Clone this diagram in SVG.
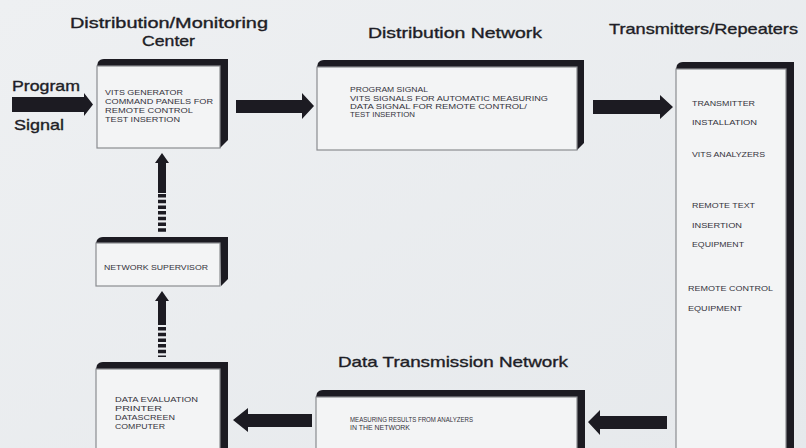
<svg xmlns="http://www.w3.org/2000/svg" width="806" height="448" viewBox="0 0 806 448">
<defs>
<linearGradient id="bg" x1="0" y1="0" x2="1" y2="1">
<stop offset="0" stop-color="#eef0f2"/>
<stop offset="1" stop-color="#e6e9ec"/>
</linearGradient>
</defs>
<style>
.face{fill:#f3f4f5;stroke:#8a8c90;stroke-width:1.2}
.frame{fill:#1c1b22}
.arrow{fill:#1c1b22}
.dash{stroke:#1c1b22;stroke-width:8;stroke-dasharray:3.5 2.2;fill:none}
.title{font-family:"Liberation Sans",Arial,sans-serif;font-size:14.5px;fill:#1e1e26;stroke:#1e1e26;stroke-width:0.35}
.small{font-family:"Liberation Sans",Arial,sans-serif;font-size:7px;fill:#33333c}
</style>
<rect width="806" height="448" fill="url(#bg)"/>

<g id="titles">
<text class="title" x="70" y="28" textLength="198" lengthAdjust="spacingAndGlyphs">Distribution/Monitoring</text>
<text class="title" x="142" y="46" textLength="53" lengthAdjust="spacingAndGlyphs">Center</text>
<text class="title" x="368" y="38" textLength="174" lengthAdjust="spacingAndGlyphs">Distribution Network</text>
<text class="title" x="609" y="34" textLength="189" lengthAdjust="spacingAndGlyphs">Transmitters/Repeaters</text>
<text class="title" x="338" y="367" textLength="230" lengthAdjust="spacingAndGlyphs">Data Transmission Network</text>
</g>

<g id="program-signal">
<text class="title" x="12" y="91" textLength="68" lengthAdjust="spacingAndGlyphs">Program</text>
<text class="title" x="14" y="130" textLength="50" lengthAdjust="spacingAndGlyphs">Signal</text>
</g>

<g id="monitoring-center">
<path class="frame" d="M97,66 L98,62 Q100,59 104,59 L228,59 L228,140 L220,148 L220,66 Z"/>
<rect class="face" x="97" y="66" width="123" height="82"/>
<text class="small" x="105" y="95" textLength="78" lengthAdjust="spacingAndGlyphs">VITS GENERATOR</text>
<text class="small" x="105" y="104" textLength="108" lengthAdjust="spacingAndGlyphs">COMMAND PANELS FOR</text>
<text class="small" x="105" y="113" textLength="88" lengthAdjust="spacingAndGlyphs">REMOTE CONTROL</text>
<text class="small" x="105" y="122" textLength="75" lengthAdjust="spacingAndGlyphs">TEST INSERTION</text>
</g>

<g id="distribution-network">
<path class="frame" d="M317,67 L318,63 Q320,60 324,60 L584,60 L584,143 L577,150 L577,67 Z"/>
<rect class="face" x="317" y="67" width="260" height="83"/>
<text class="small" x="350" y="92" textLength="78" lengthAdjust="spacingAndGlyphs">PROGRAM SIGNAL</text>
<text class="small" x="350" y="101" textLength="198" lengthAdjust="spacingAndGlyphs">VITS SIGNALS FOR AUTOMATIC MEASURING</text>
<text class="small" x="350" y="109" textLength="177" lengthAdjust="spacingAndGlyphs">DATA SIGNAL FOR REMOTE CONTROL/</text>
<text class="small" x="350" y="117" textLength="65" lengthAdjust="spacingAndGlyphs">TEST INSERTION</text>
</g>

<g id="transmitters">
<path class="frame" d="M676,69 L677,65 Q679,62 683,62 L794,62 L794,460 L786,460 L786,69 Z"/>
<rect class="face" x="676" y="69" width="110" height="390"/>
<text class="small" x="692" y="106" textLength="63" lengthAdjust="spacingAndGlyphs">TRANSMITTER</text>
<text class="small" x="692" y="125" textLength="65" lengthAdjust="spacingAndGlyphs">INSTALLATION</text>
<text class="small" x="692" y="157" textLength="73" lengthAdjust="spacingAndGlyphs">VITS ANALYZERS</text>
<text class="small" x="692" y="208" textLength="63" lengthAdjust="spacingAndGlyphs">REMOTE TEXT</text>
<text class="small" x="692" y="228" textLength="50" lengthAdjust="spacingAndGlyphs">INSERTION</text>
<text class="small" x="692" y="247" textLength="52" lengthAdjust="spacingAndGlyphs">EQUIPMENT</text>
<text class="small" x="688" y="291" textLength="85" lengthAdjust="spacingAndGlyphs">REMOTE CONTROL</text>
<text class="small" x="688" y="311" textLength="54" lengthAdjust="spacingAndGlyphs">EQUIPMENT</text>
</g>

<g id="data-transmission-network">
<path class="frame" d="M316,397 L317,393 Q319,390 323,390 L585,390 L585,460 L577,460 L577,397 Z"/>
<rect class="face" x="316" y="397" width="261" height="63"/>
<text class="small" x="350" y="422" textLength="123" lengthAdjust="spacingAndGlyphs">MEASURING RESULTS FROM ANALYZERS</text>
<text class="small" x="350" y="430" textLength="60" lengthAdjust="spacingAndGlyphs">IN THE NETWORK</text>
</g>

<g id="network-supervisor">
<path class="frame" d="M96,243 L97,240 Q99,237 103,237 L228,237 L228,279 L221,286 L220,243 Z"/>
<rect class="face" x="96" y="243" width="124" height="43"/>
<text class="small" x="104" y="270" textLength="104" lengthAdjust="spacingAndGlyphs">NETWORK SUPERVISOR</text>
</g>

<g id="data-evaluation">
<path class="frame" d="M96,369 L97,365 Q99,362 103,362 L228,362 L228,460 L220,460 L220,369 Z"/>
<rect class="face" x="96" y="369" width="124" height="90"/>
<text class="small" x="115" y="402" textLength="83" lengthAdjust="spacingAndGlyphs">DATA EVALUATION</text>
<text class="small" x="115" y="411" textLength="47" lengthAdjust="spacingAndGlyphs">PRINTER</text>
<text class="small" x="115" y="420" textLength="60" lengthAdjust="spacingAndGlyphs">DATASCREEN</text>
<text class="small" x="115" y="429" textLength="50" lengthAdjust="spacingAndGlyphs">COMPUTER</text>
</g>

<g id="connectors">
<polygon class="arrow" points="12,97 84,97 84,93 93,104.5 84,116 84,112 12,112"/>
<polygon class="arrow" points="236,100 302,100 302,93 314,106 302,119 302,113 236,113"/>
<polygon class="arrow" points="593,100 660,100 660,95 673,107 660,119 660,114 593,114"/>
<polygon class="arrow" points="667,416 600,416 600,410 588,422 600,435 600,429 667,429"/>
<polygon class="arrow" points="312,414 248,414 248,408 233,420 248,432 248,427 312,427"/>
<polygon class="arrow" points="158,193 158,163 155,163 162,153 169,163 166,163 166,193"/>
<line class="dash" x1="162" y1="194" x2="162" y2="233"/>
<polygon class="arrow" points="158,325 158,301 155,301 162,291 169,301 166,301 166,325"/>
<line class="dash" x1="162" y1="327" x2="162" y2="357"/>
</g>
</svg>
